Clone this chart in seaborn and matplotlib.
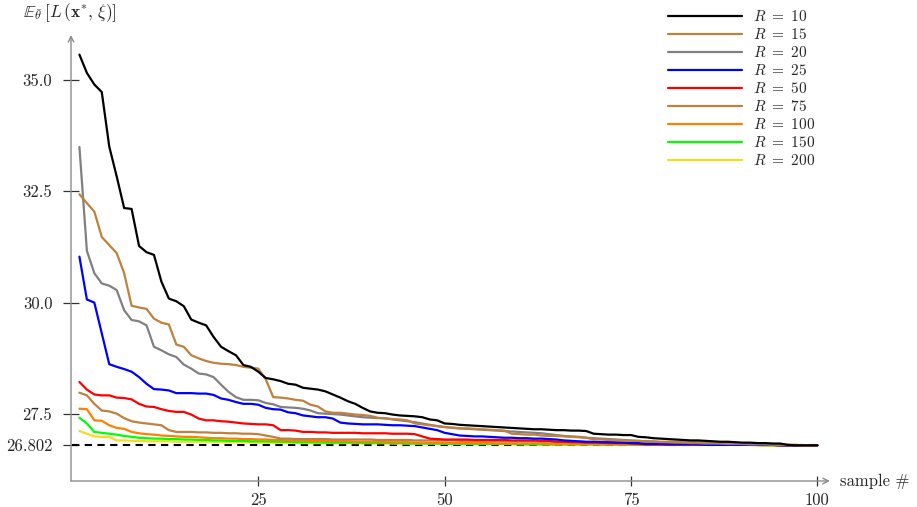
import numpy as np
import pandas as pd
import matplotlib
matplotlib.use("Agg")
import matplotlib.pyplot as plt
from matplotlib.lines import Line2D
import seaborn as sns

# ---- data -----------------------------------------------------------------
samples = np.arange(1, 101)
opt_value = 26.802

R_values = [10, 15, 20, 25, 50, 75, 100, 150, 200]
colors = ["#000000", "#bf8040", "#808080", "#0000ff", "#ff0000",
          "#bf8040", "#ff8000", "#00ff00", "#f5dc1e"]

loss_R10 = [
    35.56, 35.15, 34.89, 34.72, 33.50, 32.83, 32.12, 32.10, 31.27, 31.13,
    31.07, 30.47, 30.09, 30.03, 29.92, 29.62, 29.55, 29.49, 29.23, 29.01,
    28.91, 28.82, 28.60, 28.56, 28.45, 28.31, 28.28, 28.24, 28.18, 28.16,
    28.09, 28.07, 28.05, 28.01, 27.94, 27.87, 27.79, 27.73, 27.64, 27.56,
    27.53, 27.52, 27.49, 27.47, 27.46, 27.45, 27.43, 27.38, 27.36, 27.29,
    27.28, 27.26, 27.25, 27.24, 27.23, 27.22, 27.21, 27.20, 27.19, 27.18,
    27.17, 27.16, 27.16, 27.15, 27.14, 27.14, 27.13, 27.13, 27.12, 27.06,
    27.05, 27.04, 27.04, 27.03, 27.03, 26.99, 26.98, 26.96, 26.95, 26.94,
    26.93, 26.92, 26.91, 26.91, 26.90, 26.89, 26.88, 26.88, 26.87, 26.86,
    26.86, 26.85, 26.85, 26.84, 26.84, 26.81, 26.80, 26.80, 26.80, 26.80,
]
loss_R15 = [
    32.43, 32.23, 32.04, 31.47, 31.29, 31.11, 30.66, 29.93, 29.89, 29.86,
    29.64, 29.55, 29.51, 29.06, 29.01, 28.82, 28.75, 28.69, 28.65, 28.63,
    28.62, 28.60, 28.56, 28.54, 28.52, 28.28, 27.88, 27.87, 27.85, 27.82,
    27.80, 27.71, 27.67, 27.56, 27.53, 27.53, 27.51, 27.49, 27.48, 27.46,
    27.42, 27.40, 27.39, 27.38, 27.36, 27.29, 27.27, 27.25, 27.23, 27.21,
    27.20, 27.18, 27.18, 27.17, 27.16, 27.15, 27.14, 27.13, 27.06, 27.05,
    27.04, 27.04, 27.02, 27.01, 27.01, 27.00, 26.99, 26.98, 26.97, 26.93,
    26.93, 26.92, 26.92, 26.91, 26.90, 26.90, 26.89, 26.89, 26.88, 26.88,
    26.88, 26.87, 26.87, 26.87, 26.86, 26.86, 26.85, 26.85, 26.85, 26.84,
    26.84, 26.84, 26.83, 26.83, 26.82, 26.81, 26.81, 26.80, 26.80, 26.80,
]
loss_R20 = [
    33.49, 31.16, 30.66, 30.43, 30.38, 30.28, 29.83, 29.61, 29.58, 29.49,
    29.01, 28.93, 28.84, 28.78, 28.61, 28.52, 28.41, 28.39, 28.33, 28.16,
    28.00, 27.88, 27.82, 27.82, 27.81, 27.75, 27.72, 27.66, 27.65, 27.64,
    27.62, 27.58, 27.52, 27.51, 27.50, 27.49, 27.47, 27.45, 27.43, 27.42,
    27.41, 27.41, 27.38, 27.36, 27.34, 27.32, 27.29, 27.26, 27.23, 27.21,
    27.19, 27.18, 27.17, 27.16, 27.15, 27.14, 27.13, 27.12, 27.11, 27.10,
    27.09, 27.08, 27.07, 27.05, 27.03, 27.01, 27.00, 26.99, 26.97, 26.96,
    26.95, 26.94, 26.93, 26.92, 26.91, 26.90, 26.89, 26.88, 26.87, 26.87,
    26.86, 26.86, 26.85, 26.85, 26.84, 26.84, 26.84, 26.83, 26.83, 26.83,
    26.82, 26.82, 26.82, 26.81, 26.81, 26.81, 26.80, 26.80, 26.80, 26.80,
]
loss_R25 = [
    31.03, 30.07, 30.00, 29.31, 28.62, 28.56, 28.51, 28.45, 28.33, 28.18,
    28.06, 28.05, 28.03, 27.97, 27.97, 27.97, 27.96, 27.96, 27.93, 27.85,
    27.82, 27.77, 27.73, 27.73, 27.71, 27.64, 27.61, 27.60, 27.54, 27.52,
    27.47, 27.45, 27.43, 27.43, 27.40, 27.31, 27.29, 27.28, 27.27, 27.27,
    27.27, 27.26, 27.25, 27.25, 27.24, 27.23, 27.20, 27.17, 27.14, 27.08,
    27.05, 27.02, 27.01, 27.00, 27.00, 26.99, 26.98, 26.97, 26.97, 26.96,
    26.96, 26.95, 26.95, 26.94, 26.93, 26.91, 26.90, 26.89, 26.88, 26.88,
    26.87, 26.87, 26.86, 26.86, 26.85, 26.85, 26.83, 26.83, 26.83, 26.82,
    26.82, 26.82, 26.82, 26.82, 26.81, 26.81, 26.81, 26.81, 26.81, 26.81,
    26.81, 26.81, 26.81, 26.81, 26.80, 26.80, 26.80, 26.80, 26.80, 26.80,
]
loss_R50 = [
    28.22, 28.05, 27.94, 27.92, 27.92, 27.87, 27.86, 27.83, 27.73, 27.67,
    27.66, 27.61, 27.57, 27.55, 27.55, 27.49, 27.40, 27.36, 27.36, 27.34,
    27.33, 27.31, 27.29, 27.28, 27.27, 27.27, 27.25, 27.14, 27.14, 27.13,
    27.10, 27.10, 27.09, 27.09, 27.08, 27.08, 27.08, 27.08, 27.07, 27.07,
    27.07, 27.07, 27.06, 27.06, 27.06, 27.05, 27.00, 26.95, 26.94, 26.93,
    26.93, 26.93, 26.93, 26.92, 26.92, 26.92, 26.92, 26.92, 26.91, 26.91,
    26.91, 26.91, 26.90, 26.90, 26.88, 26.88, 26.87, 26.87, 26.86, 26.86,
    26.86, 26.85, 26.85, 26.85, 26.84, 26.83, 26.82, 26.82, 26.82, 26.82,
    26.82, 26.82, 26.82, 26.82, 26.82, 26.81, 26.81, 26.81, 26.81, 26.81,
    26.81, 26.81, 26.81, 26.81, 26.80, 26.80, 26.80, 26.80, 26.80, 26.80,
]
loss_R75 = [
    27.98, 27.92, 27.73, 27.58, 27.56, 27.51, 27.41, 27.34, 27.31, 27.29,
    27.27, 27.25, 27.14, 27.10, 27.10, 27.10, 27.09, 27.09, 27.08, 27.08,
    27.07, 27.07, 27.06, 27.06, 27.05, 27.02, 26.99, 26.95, 26.95, 26.94,
    26.94, 26.94, 26.94, 26.94, 26.93, 26.93, 26.93, 26.93, 26.93, 26.93,
    26.92, 26.92, 26.92, 26.92, 26.92, 26.91, 26.91, 26.91, 26.91, 26.91,
    26.91, 26.90, 26.90, 26.90, 26.90, 26.90, 26.89, 26.89, 26.89, 26.89,
    26.89, 26.89, 26.88, 26.88, 26.88, 26.88, 26.88, 26.88, 26.87, 26.87,
    26.87, 26.87, 26.87, 26.86, 26.86, 26.86, 26.86, 26.86, 26.85, 26.85,
    26.85, 26.85, 26.85, 26.84, 26.84, 26.84, 26.84, 26.83, 26.83, 26.83,
    26.83, 26.82, 26.82, 26.82, 26.81, 26.81, 26.81, 26.80, 26.80, 26.80,
]
loss_R100 = [
    27.62, 27.61, 27.36, 27.35, 27.25, 27.19, 27.17, 27.10, 27.07, 27.05,
    27.04, 27.02, 27.01, 27.00, 26.99, 26.99, 26.98, 26.97, 26.96, 26.96,
    26.95, 26.95, 26.94, 26.94, 26.93, 26.93, 26.92, 26.92, 26.91, 26.91,
    26.91, 26.90, 26.90, 26.90, 26.89, 26.89, 26.89, 26.88, 26.88, 26.88,
    26.88, 26.87, 26.87, 26.87, 26.87, 26.86, 26.86, 26.86, 26.86, 26.86,
    26.85, 26.85, 26.85, 26.85, 26.85, 26.85, 26.84, 26.84, 26.84, 26.84,
    26.84, 26.84, 26.84, 26.83, 26.83, 26.83, 26.83, 26.83, 26.83, 26.83,
    26.82, 26.82, 26.82, 26.82, 26.82, 26.82, 26.82, 26.82, 26.81, 26.81,
    26.81, 26.81, 26.81, 26.81, 26.81, 26.81, 26.81, 26.81, 26.81, 26.81,
    26.81, 26.80, 26.80, 26.80, 26.80, 26.80, 26.80, 26.80, 26.80, 26.80,
]
loss_R150 = [
    27.42, 27.29, 27.10, 27.08, 27.06, 27.04, 27.01, 26.99, 26.97, 26.96,
    26.95, 26.95, 26.94, 26.94, 26.93, 26.93, 26.92, 26.92, 26.91, 26.91,
    26.90, 26.90, 26.90, 26.89, 26.89, 26.89, 26.88, 26.88, 26.88, 26.87,
    26.87, 26.87, 26.87, 26.86, 26.86, 26.86, 26.86, 26.86, 26.85, 26.85,
    26.85, 26.85, 26.85, 26.85, 26.84, 26.84, 26.84, 26.84, 26.84, 26.84,
    26.83, 26.83, 26.83, 26.83, 26.83, 26.83, 26.83, 26.83, 26.83, 26.82,
    26.82, 26.82, 26.82, 26.82, 26.82, 26.82, 26.82, 26.82, 26.82, 26.82,
    26.82, 26.82, 26.82, 26.82, 26.81, 26.81, 26.81, 26.81, 26.81, 26.81,
    26.81, 26.81, 26.81, 26.81, 26.81, 26.81, 26.81, 26.81, 26.81, 26.81,
    26.81, 26.81, 26.80, 26.80, 26.80, 26.80, 26.80, 26.80, 26.80, 26.80,
]
loss_R200 = [
    27.12, 27.06, 27.00, 26.99, 26.99, 26.91, 26.91, 26.90, 26.90, 26.89,
    26.89, 26.89, 26.89, 26.88, 26.88, 26.88, 26.88, 26.88, 26.88, 26.87,
    26.87, 26.87, 26.87, 26.87, 26.86, 26.86, 26.86, 26.86, 26.86, 26.86,
    26.85, 26.85, 26.85, 26.85, 26.85, 26.85, 26.85, 26.85, 26.85, 26.85,
    26.85, 26.85, 26.84, 26.84, 26.84, 26.84, 26.84, 26.84, 26.84, 26.84,
    26.84, 26.84, 26.83, 26.83, 26.83, 26.83, 26.83, 26.83, 26.83, 26.83,
    26.83, 26.83, 26.82, 26.82, 26.82, 26.82, 26.82, 26.82, 26.82, 26.82,
    26.82, 26.82, 26.82, 26.82, 26.82, 26.81, 26.81, 26.81, 26.81, 26.81,
    26.81, 26.81, 26.81, 26.81, 26.81, 26.81, 26.81, 26.81, 26.81, 26.81,
    26.81, 26.81, 26.81, 26.80, 26.80, 26.80, 26.80, 26.80, 26.80, 26.80,
]
losses = [loss_R10, loss_R15, loss_R20, loss_R25, loss_R50,
          loss_R75, loss_R100, loss_R150, loss_R200]

x_ticks = [25, 50, 75, 100]
y_ticks = [26.802, 27.5, 30.0, 32.5, 35.0]
y_tick_labels = ["26.802", "27.5", "30.0", "32.5", "35.0"]

# ---- style ----------------------------------------------------------------
sns.set_style("white")
plt.rcParams["font.family"] = ["cmr10", "DejaVu Serif"]
plt.rcParams["mathtext.fontset"] = "cm"
plt.rcParams["axes.formatter.use_mathtext"] = True

W, H = 917, 507
fig = plt.figure(figsize=(W / 100, H / 100), dpi=100)
ax = fig.add_axes([71 / W, 26 / H, (830 - 71) / W, (481 - 35) / H])
ax.set_xlim(-0.13, 101.7)
ax.set_ylim(26.0, 36.0)

# reference level
ax.hlines(opt_value, 0, samples.max(), colors="black", lw=1.5,
          linestyles=(0, (3.5, 2.6)), zorder=1)

# curves (drawn last-to-first so the small-R curves sit on top)
for R, c, vals in reversed(list(zip(R_values, colors, losses))):
    df = pd.DataFrame({"sample": samples, "loss": vals})
    sns.lineplot(data=df, x="sample", y="loss", color=c, lw=1.6,
                 ax=ax, legend=False, zorder=2)

# axes with arrow heads
for s in ax.spines.values():
    s.set_visible(False)
arrow = dict(arrowstyle="->", color="#8c8c8c", lw=1.0,
             shrinkA=0, shrinkB=0, mutation_scale=10)
ax.annotate("", xy=(1, 0), xytext=(0, 0), xycoords="axes fraction",
            arrowprops=arrow, annotation_clip=False)
ax.annotate("", xy=(0, 1), xytext=(0, 0), xycoords="axes fraction",
            arrowprops=arrow, annotation_clip=False)

ax.set_xticks(x_ticks)
ax.set_xticklabels([str(t) for t in x_ticks])
ax.set_yticks(y_ticks)
ax.set_yticklabels(y_tick_labels)
ax.tick_params(axis="y", direction="inout", length=11, width=0.9,
               color="#333333", pad=8, labelsize=12, left=True)
ax.tick_params(axis="x", direction="inout", length=6.5, width=0.9,
               color="#333333", pad=5, labelsize=12, bottom=True)
ax.set_xlabel("")
ax.set_ylabel("")
ax.grid(False)

fig.text(840 / W, 1 - 481 / H, "sample #", ha="left", va="center",
         fontsize=12)
fig.text(23 / W, 1 - 13 / H,
         r"$\mathbb{E}_{\bar{\theta}}\,[L\,(\mathbf{x}^{*},\,\xi)]$",
         ha="left", va="center", fontsize=12.5)

handles = [Line2D([], [], color=c, lw=1.6) for c in colors]
labels = [rf"$R\ =\ {r}$" for r in R_values]
ax.legend(handles, labels, loc="upper left", frameon=False,
          bbox_to_anchor=(668 / W, 1 - 9 / H),
          bbox_transform=fig.transFigure, fontsize=11,
          handlelength=4.85, handletextpad=0.72, labelspacing=0.2,
          borderaxespad=0, borderpad=0)

fig.savefig("out.png", dpi=100, facecolor="white")
